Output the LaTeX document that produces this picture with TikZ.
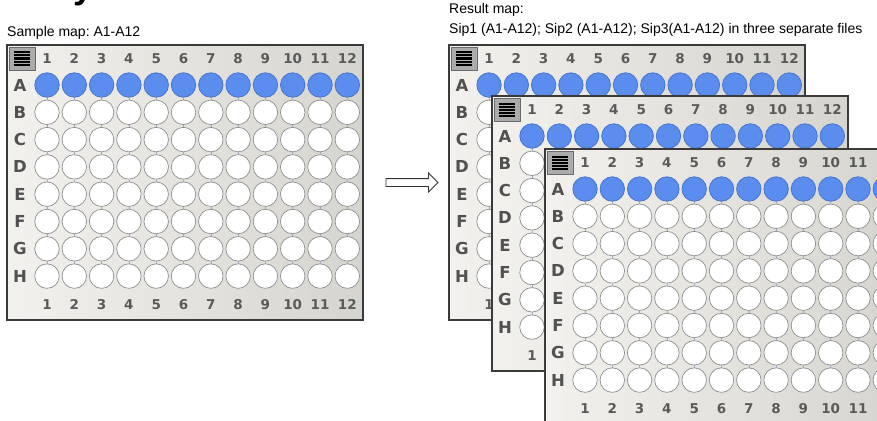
\documentclass[tikz,border=0pt]{standalone}
\usepackage{fontspec}
\setmainfont{Liberation Sans}
\newfontfamily\platefont{DejaVu Sans}[BoldFont={DejaVu Sans Bold}]
\usetikzlibrary{shapes.arrows}
\frenchspacing
\definecolor{platelight}{HTML}{F2F1ED}
\definecolor{platedark}{HTML}{D5D4CE}
\definecolor{plateedge}{HTML}{3A3A3A}
\definecolor{iconfill}{HTML}{ABABAB}
\definecolor{iconedge}{HTML}{6A6A6A}
\definecolor{numgrey}{HTML}{5A5A5A}
\definecolor{wellblue}{HTML}{5B8DEE}
\definecolor{welledge}{HTML}{4370C8}
\definecolor{emptyedge}{HTML}{8E8E8E}
\definecolor{linkgrey}{HTML}{A2A8BE}
\tikzset{
  caption/.style={font=\fontsize{14}{15}\selectfont,inner sep=0pt},
  plateframe/.style={draw=plateedge,line width=1.1pt,left color=platelight,
                     right color=platedark,minimum width=356pt,minimum height=275pt,
                     inner sep=0pt},
  cornericon/.style={draw=iconedge,line width=0.8pt,fill=iconfill,
                     minimum width=26pt,minimum height=23pt,inner sep=0pt},
  iconbar/.style={line width=2pt,black},
  colnum/.style={font=\platefont\bfseries\fontsize{13.5}{14}\selectfont,
                 text=numgrey,inner sep=0pt,anchor=base},
  rowlbl/.style={font=\platefont\bfseries\fontsize{16.5}{17}\selectfont,
                 text=numgrey!90!black,inner sep=0pt,anchor=base},
  well/.style={circle,minimum size=24.5pt,inner sep=0pt,line width=0.7pt},
  full/.style={fill=wellblue,draw=welledge},
  empty/.style={fill=white,draw=emptyedge},
  link/.style={line width=0.6pt,draw=linkgrey},
  hollowarrow/.style={single arrow,draw=black!80,fill=white,line width=0.8pt,
                      minimum height=52pt,minimum width=18pt,inner sep=3.5pt,
                      single arrow head extend=5.5pt},
  wellplate/.pic={
    \node[plateframe] (-frame) at (178,137.5) {};
    \node[cornericon] (-icon) at (15,13.5) {};
    \foreach \k in {1,...,5}
      \draw[iconbar] (7,{4.5+3*\k}) -- (23,{4.5+3*\k});
    \foreach \c in {1,...,12} {
      \node[colnum] (-top\c) at ({40+27.3*(\c-1)},18.8) {\c};
      \node[colnum] (-bot\c) at ({40+27.3*(\c-1)},264.8) {\c};
    }
    \foreach \r/\st [count=\i] in {A/full,B/empty,C/empty,D/empty,E/empty,F/empty,G/empty,H/empty} {
      \node[rowlbl] (-lbl\r) at (13,{46+27.3*(\i-1)}) {\r};
      \foreach \c in {1,...,12}
        \node[well,\st] (-\r\c) at ({40+27.3*(\c-1)},{40+27.3*(\i-1)}) {};
    }
    % short joins between neighbouring wells
    \foreach \r in {A,...,H}
      \foreach \c [evaluate=\c as \cn using int(\c+1)] in {1,...,11}
        \draw[link] (-\r\c) -- (-\r\cn);
    \foreach \r/\rn in {A/B,B/C,C/D,D/E,E/F,F/G,G/H}
      \foreach \c in {1,...,12}
        \draw[link] (-\r\c) -- (-\rn\c);
  },
}
\begin{document}
\begin{tikzpicture}[x=1pt,y=-1pt]
  \useasboundingbox (0,0) rectangle (877,420);
  \clip (0,0) rectangle (877,420);
  \node[font=\bfseries\fontsize{36}{36}\selectfont,anchor=base west,inner sep=0pt] (cuttitle) at (73,-1) {y};

  \node[caption,anchor=base west] (samplecap) at (7,37) {Sample map: A1-A12};
  \pic (sample) at (7,45) {wellplate};

  \node[hollowarrow] (goarrow) at (410,182.5) {};

  \node[caption,anchor=base west] (resultcap) at (449,14) {Result map:};
  \node[caption,anchor=base west] (resultsub) at (449,34)
    {Sip1 (A1-A12); Sip2 (A1-A12); Sip3(A1-A12) in three separate files};
  \pic (sipone) at (449,45) {wellplate};
  \pic (siptwo) at (492,96) {wellplate};
  \pic (sipthree) at (545,149) {wellplate};
\end{tikzpicture}
\end{document}
